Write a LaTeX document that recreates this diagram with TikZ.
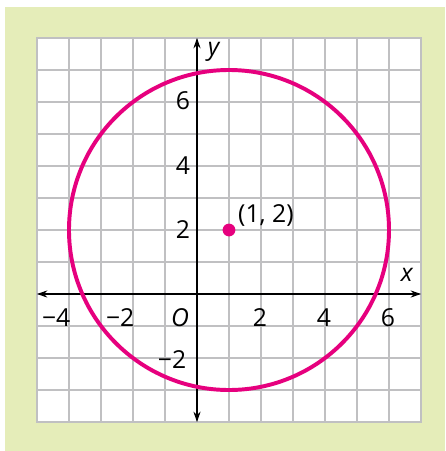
\documentclass[tikz,border=0pt]{standalone}
\usepackage{fontspec}
\setmainfont{Open Sans}
\usetikzlibrary{arrows.meta,positioning,calc}

\definecolor{bggreen}{RGB}{229,237,185}
\definecolor{gridgray}{RGB}{192,192,194}
\definecolor{ringpink}{RGB}{230,0,126}

\begin{document}
\begin{tikzpicture}[x=1cm,y=1cm,
          gridline/.style={gridgray, line width=1.6pt},
          axis/.style={black, line width=1pt, {Stealth[length=3.2mm,width=2.2mm]}-{Stealth[length=3.2mm,width=2.2mm]}},
          ring/.style={ringpink, line width=3.5pt},
          lbl/.style={font=\fontsize{22}{22}\selectfont, inner sep=0pt}
        ]
          % Rahmen
          \useasboundingbox (-6.156,-4.906) rectangle (7.75,9.1875);
          \fill[bggreen] (-6.0,-4.906) rectangle (7.75,8.97);
          \fill[white] (-5,-4) rectangle (7,8);

          % Gitter
          \draw[gridline] (-5,-4) grid (7,8);
          \draw[gridgray, line width=2.4pt] (-5,-4) rectangle (7,8);

          % Achsen
          \coordinate (xl) at (-5,0);
          \coordinate (xr) at (7,0);
          \coordinate (yb) at (0,-4);
          \coordinate (yt) at (0,8);
          \draw[axis] (xl) -- (xr);
          \draw[axis] (yb) -- (yt);
          \node[lbl] (xlab) at (6.56,0.6) {\itshape x};
          \node[lbl] (ylab) at (0.52,7.58) {\itshape y};
          \node[lbl] (olab) at (-0.53,-0.74) {\itshape O};

          % Skala
          \node[lbl] (xm4) at (-4.4,-0.74) {−4};
          \node[lbl] (xm2) at (-2.4,-0.74) {−2};
          \node[lbl] (x2) at (1.97,-0.74) {2};
          \node[lbl] (x4) at (3.97,-0.74) {4};
          \node[lbl] (x6) at (5.97,-0.74) {6};
          \node[lbl] (y6) at (-0.44,6.03) {6};
          \node[lbl] (y4) at (-0.44,4.0) {4};
          \node[lbl] (y2) at (-0.44,2.0) {2};
          \node[lbl] (ym2) at (-0.78,-2.06) {−2};

          % Kreis
          \coordinate (c) at (1,2);
          \draw[ring] (c) circle (5);
          \fill[ringpink] (c) circle (0.2);
          \node[lbl, above right=0.1 and 0.28 of c] (clab) {(1, 2)};
        \end{tikzpicture}
\end{document}
